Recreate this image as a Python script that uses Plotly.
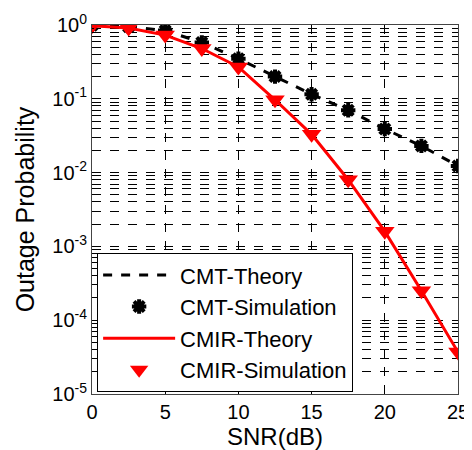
import plotly.graph_objects as go

# SNR-Werte und Outage-Wahrscheinlichkeiten
snr = [0, 2.5, 5, 7.5, 10, 12.5, 15, 17.5, 20, 22.5, 25]
cmt_theory = [0.99, 0.95, 0.84, 0.58, 0.35, 0.2, 0.115, 0.07, 0.039, 0.023, 0.0123]
cmt_sim = [0.99, 0.95, 0.84, 0.58, 0.35, 0.2, 0.115, 0.07, 0.039, 0.023, 0.0123]
cmir_theory = [0.98, 0.91, 0.73, 0.48, 0.27, 0.097, 0.033, 0.008, 0.0016, 0.00025, 0.000037]
cmir_sim = [0.98, 0.91, 0.73, 0.48, 0.27, 0.097, 0.033, 0.008, 0.0016, 0.00025, 0.000037]

y_ticks = [1e-5, 1e-4, 1e-3, 1e-2, 1e-1, 1]
y_labels = ["10<sup>-5</sup>", "10<sup>-4</sup>", "10<sup>-3</sup>", "10<sup>-2</sup>", "10<sup>-1</sup>", "10<sup>0</sup>"]
minor_vals = [m * 10 ** e for e in range(-5, 0) for m in range(2, 10)]

fig = go.Figure()
fig.add_trace(go.Scatter(x=snr, y=cmt_theory, mode="lines", name="CMT-Theory",
                         line=dict(color="black", width=3, dash="dash")))
fig.add_trace(go.Scatter(x=snr, y=cmt_sim, mode="markers", name="CMT-Simulation",
                         marker=dict(symbol="asterisk-open", size=12, color="black",
                                     line=dict(color="black", width=4))))
fig.add_trace(go.Scatter(x=snr, y=cmir_theory, mode="lines", name="CMIR-Theory",
                         line=dict(color="red", width=3)))
fig.add_trace(go.Scatter(x=snr, y=cmir_sim, mode="markers", name="CMIR-Simulation",
                         marker=dict(symbol="triangle-down", size=17, color="red")))

# die Seite hat 8px Rand, deshalb etwas kleiner als das Fenster
fig.update_layout(
    width=464, height=442,
    margin=dict(l=84, r=14, t=17, b=56),
    plot_bgcolor="white", paper_bgcolor="white",
    font=dict(family="Arial, Liberation Sans", color="black", size=20),
    legend=dict(x=0.014, y=0.005, xanchor="left", yanchor="bottom",
                bgcolor="white", bordercolor="black", borderwidth=1,
                font=dict(size=22), tracegroupgap=0, itemwidth=72),
)
fig.update_xaxes(
    title=dict(text="SNR(dB)", font=dict(size=24), standoff=2),
    range=[0, 25], tickvals=[0, 5, 10, 15, 20, 25], automargin=False,
    ticklabeloverflow="allow",
    showgrid=True, gridcolor="black", griddash="dash", gridwidth=1,
    showline=True, linecolor="#444", linewidth=1, mirror=True,
    ticks="inside", ticklen=4, tickcolor="black", zeroline=False,
)
fig.update_yaxes(
    title=dict(text="Outage Probability", font=dict(size=25), standoff=10),
    type="log", range=[-5, 0], tickvals=y_ticks, ticktext=y_labels, automargin=False,
    ticklabeloverflow="allow",
    showgrid=True, gridcolor="black", griddash="dash", gridwidth=1,
    minor=dict(tickmode="array", tickvals=minor_vals, showgrid=True,
               gridcolor="black", griddash="dash", gridwidth=1,
               ticks="inside", ticklen=2, tickcolor="black"),
    showline=True, linecolor="#444", linewidth=1, mirror=True,
    ticks="inside", ticklen=4, tickcolor="black", zeroline=False,
)

fig.write_html("out.html")
